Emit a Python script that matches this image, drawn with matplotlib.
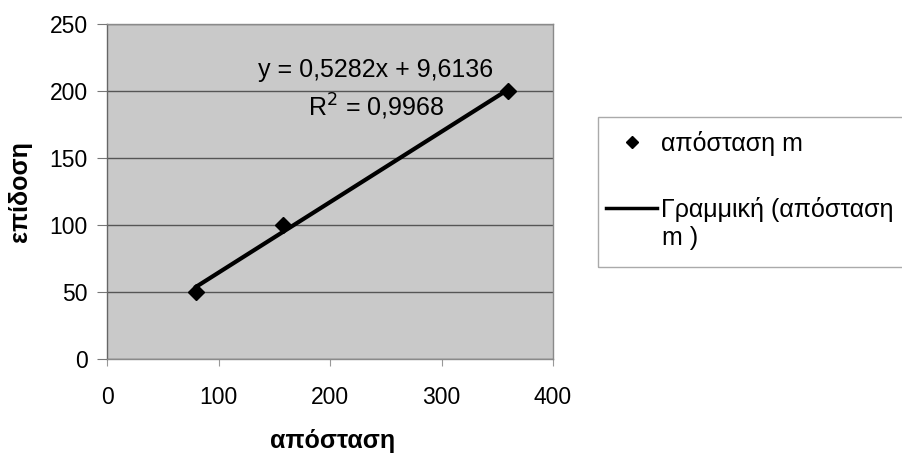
import numpy as np
import matplotlib.pyplot as plt
from matplotlib.lines import Line2D
from matplotlib.patches import Rectangle

plt.rcParams['font.family'] = ['Liberation Sans', 'DejaVu Sans']

# data
distance = [80, 158, 360]
score = [50, 100, 200]
eq_text = "y = 0,5282x + 9,6136"
r2_text = "R$^2$ = 0,9968"
x_ticks = [0, 100, 200, 300, 400]
y_ticks = [0, 50, 100, 150, 200, 250]

W, H = 902, 454
fig = plt.figure(figsize=(W/100, H/100), dpi=100)
ax = fig.add_axes([107/W, 1-358.5/H, (553-107)/W, (358.5-24.5)/H])
ax.set_facecolor('#c9c9c9')

# linear trendline
slope, icpt = np.polyfit(distance, score, 1)
xl = np.array([min(distance), max(distance)])
ax.plot(xl, slope*xl + icpt, color='black', lw=3, zorder=3)
ax.plot(distance, score, 'D', color='black', ms=8, zorder=4)

ax.set_xlim(0, 400)
ax.set_ylim(0, 250)
ax.set_xticks(x_ticks)
ax.set_yticks(y_ticks)
ax.yaxis.grid(True, color='#555555', lw=1)
ax.set_axisbelow(True)
for s in ax.spines.values():
    s.set_color('#8a8a8a')
    s.set_linewidth(1)
ax.spines['left'].set_color('#666666')
ax.tick_params(axis='x', length=5, color='#999999', labelsize=16.5, pad=15)
ax.tick_params(axis='y', length=7, color='#777777', labelsize=16.5, pad=7)

ax.set_xlabel('απόσταση', fontsize=18, fontweight='bold')
ax.xaxis.set_label_coords((333-107)/446, (358.5-441)/334)
ax.xaxis.label.set_va('center')
ax.set_ylabel('επίδοση', fontsize=18, fontweight='bold')
ax.yaxis.set_label_coords((20-107)/446, 0.5)
ax.yaxis.label.set_va('center')

ax.text(241, 216, eq_text, ha='center', va='center', fontsize=18)
ax.text(241, 188.5, r2_text, ha='center', va='center', fontsize=18)

# legend frame runs past the right edge of the figure
fig.patches.append(Rectangle((598/W, 1-267/H), 320/W, 150/H,
                             transform=fig.transFigure, fill=False,
                             edgecolor='#aaaaaa', lw=1))
handles = [Line2D([], [], ls='none', marker='D', color='black', ms=6),
           Line2D([], [], color='black', lw=2.5)]
labels = ['απόσταση m', 'Γραμμική (απόσταση']
leg = fig.legend(handles, labels, loc='upper left',
                 bbox_to_anchor=(606/W, 1-131/H), fontsize=18,
                 frameon=False, handlelength=2.05,
                 handletextpad=0.15, labelspacing=1.62, borderaxespad=0,
                 borderpad=0)
# wrapped rest of the trendline label
fig.text(662/W, 1-238/H, 'm )', fontsize=18, va='center', ha='left')

fig.savefig('out.png', dpi=100)
